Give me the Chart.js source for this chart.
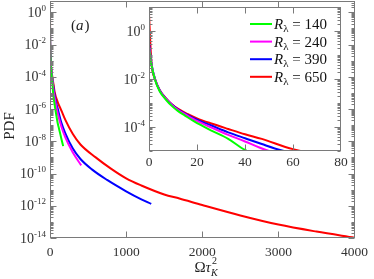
<!DOCTYPE html>
<html>
<head>
<meta charset="utf-8">
<script src="https://cdn.jsdelivr.net/npm/chart.js@4/dist/chart.umd.min.js"></script>
<style>
    html, body { margin: 0; padding: 0; background: #fff; }
    #wrap { position: relative; width: 374px; height: 279px; }
    #mainChart { position: absolute; left: 0; top: 0; }
    #insetChart { position: absolute; left: 100px; top: 0; }
</style>
</head>
<body>
<div id="wrap">
    <canvas id="mainChart" width="374" height="279"></canvas>
    <canvas id="insetChart" width="262" height="176"></canvas>
</div>
<script>
// R_lambda values and line colours
const seriesLabels = ['140', '240', '390', '650']
const seriesColors = ['#00ff00', '#ff00ff', '#0000ff', '#ff0000']

// PDF of Omega*tau_K^2
const omega140 = [0, 1, 2.5, 4.5, 7, 9.5, 12, 15, 19, 26, 33, 40, 60, 80, 100, 120, 150, 173]
const pdf140 = [0.18, 4.0e-2, 9.3e-3, 3.0e-3, 1.4e-3, 7.6e-4, 4.7e-4, 3.0e-4, 1.66e-4, 7.1e-5, 3.2e-5, 1.1e-5, 2.0e-6, 5.0e-7, 1.4e-7, 5.6e-8, 1.4e-8, 5.0e-9]

const omega240 = [0, 1, 2.5, 4.5, 7, 9.5, 12, 16, 20, 26, 33, 40, 46, 50, 80, 100, 150, 200, 300, 410]
const pdf240 = [0.25, 4.3e-2, 9.8e-3, 3.2e-3, 1.5e-3, 8.3e-4, 5.2e-4, 3.0e-4, 1.8e-4, 9.5e-5, 4.7e-5, 2.5e-5, 1.4e-5, 1.0e-5, 1.6e-6, 5.6e-7, 7.9e-8, 1.8e-8, 2.0e-9, 3.2e-10]

const omega390 = [0, 1, 2.5, 4.5, 7, 9.5, 12, 16, 20, 26, 33, 40, 47, 55, 80, 100, 150, 200, 300, 400, 550, 750, 1000, 1200, 1330]
const pdf390 = [0.34, 4.5e-2, 1.0e-2, 3.3e-3, 1.55e-3, 8.7e-4, 5.5e-4, 3.2e-4, 2.0e-4, 1.15e-4, 6.0e-5, 3.4e-5, 1.95e-5, 1.07e-5, 2.5e-6, 1.1e-6, 1.4e-7, 3.2e-8, 3.5e-9, 7.9e-10, 1.8e-10, 4.0e-11, 7.9e-12, 2.5e-12, 1.3e-12]

const omega650 = [0, 1, 2.5, 4.5, 7, 9.5, 12, 16, 20, 26, 33, 40, 47, 60, 100, 150, 200, 300, 400, 600, 800, 1000, 1200, 1500, 1700, 2000, 2500, 3000, 3500, 4000]
const pdf650 = [5.0, 5.0e-2, 1.0e-2, 3.4e-3, 1.6e-3, 8.9e-4, 5.8e-4, 3.5e-4, 2.3e-4, 1.4e-4, 8.3e-5, 5.0e-5, 3.2e-5, 1.2e-5, 2.8e-6, 7.9e-7, 2.2e-7, 2.8e-8, 6.3e-9, 1.0e-9, 2.0e-10, 5.0e-11, 1.8e-11, 5.0e-12, 2.8e-12, 1.1e-12, 2.5e-13, 6.8e-14, 2.5e-14, 1.05e-14]

// ticks
const mainXTicks = [0, 1000, 2000, 3000, 4000]
const mainYExps = [0, -2, -4, -6, -8, -10, -12, -14]
const insetXTicks = [0, 20, 40, 60, 80]
const insetYExps = [0, -2, -4]

const omegas = [omega140, omega240, omega390, omega650]
const pdfs = [pdf140, pdf240, pdf390, pdf650]

const SERIF = '"Liberation Serif", "Times New Roman", serif'

function makeDatasets() {
    return seriesLabels.map((lab, i) => ({
        label: lab,
        data: omegas[i].map((x, j) => ({x: x, y: pdfs[i][j]})),
        borderColor: seriesColors[i],
        borderWidth: 2,
        pointRadius: 0,
        cubicInterpolationMode: 'monotone',
        fill: false
    }))
}

function drawPow(ctx, d, xr, ym, size) {
    const sup = String(d)
    const ss = Math.round(size * 0.66)
    ctx.font = size + 'px ' + SERIF
    const wb = ctx.measureText('10').width
    ctx.font = ss + 'px ' + SERIF
    const ws = ctx.measureText(sup).width
    const x0 = xr - ws - wb
    const base = ym + size * 0.33
    ctx.textAlign = 'left'
    ctx.textBaseline = 'alphabetic'
    ctx.font = size + 'px ' + SERIF
    ctx.fillText('10', x0, base)
    ctx.font = ss + 'px ' + SERIF
    ctx.fillText(sup, x0 + wb, base - size * 0.42)
}

const framePlugin = {
    id: 'frame',
    beforeDraw(chart, args, o) {
        if (!o.fill) return
        const a = chart.chartArea
        const ctx = chart.ctx
        ctx.save()
        ctx.fillStyle = o.fill
        ctx.fillRect(a.left, a.top, a.right - a.left, a.bottom - a.top)
        ctx.restore()
    },
    afterDraw(chart, args, o) {
        const {ctx, chartArea: a, scales: {x, y}} = chart
        ctx.save()
        ctx.strokeStyle = '#7a7a7a'
        ctx.lineWidth = 1
        const L = Math.round(a.left) + 0.5, R = Math.round(a.right) - 0.5
        const T = Math.round(a.top) + 0.5, B = Math.round(a.bottom) - 0.5
        ctx.beginPath()
        for (const v of o.xTicks) {
            if (v <= x.min || v >= x.max) continue
            const px = Math.round(x.getPixelForValue(v)) + 0.5
            ctx.moveTo(px, B); ctx.lineTo(px, B - o.major)
            ctx.moveTo(px, T); ctx.lineTo(px, T + o.major)
        }
        const d0 = Math.floor(Math.log10(y.min)), d1 = Math.ceil(Math.log10(y.max))
        for (let d = d0; d <= d1; d++) {
            for (let k = 1; k < 10; k++) {
                const v = k * Math.pow(10, d)
                if (v < y.min * 0.999 || v > y.max) continue
                const len = (k === 1 && o.yExps.includes(d)) ? o.major : o.minor
                const py = Math.round(y.getPixelForValue(v)) + 0.5
                ctx.moveTo(L, py); ctx.lineTo(L + len, py)
                ctx.moveTo(R, py); ctx.lineTo(R - len, py)
            }
        }
        ctx.stroke()
        ctx.strokeRect(L, T, R - L, B - T)
        ctx.fillStyle = '#333'
        for (const d of o.yExps) {
            drawPow(ctx, d, a.left - 4, y.getPixelForValue(Math.pow(10, d)), o.labelSize)
        }
        if (o.extra) o.extra(chart)
        ctx.restore()
    }
}

function drawMainText(chart) {
    const ctx = chart.ctx
    ctx.fillStyle = '#222'
    ctx.textBaseline = 'alphabetic'
    ctx.textAlign = 'left'

    // (a)
    let x = 71
    ctx.font = '15px ' + SERIF
    ctx.fillText('(', x, 30); x += ctx.measureText('(').width
    ctx.font = 'italic 15px ' + SERIF
    ctx.fillText('a', x, 30); x += ctx.measureText('a').width + 1
    ctx.font = '15px ' + SERIF
    ctx.fillText(')', x, 30)

    // x title: Omega tau_K^2
    ctx.font = '15px ' + SERIF
    const wO = ctx.measureText('Ω').width
    ctx.font = 'italic 15px ' + SERIF
    const wT = ctx.measureText('τ').width
    ctx.font = 'italic 10px ' + SERIF
    const wK = ctx.measureText('K').width
    let tx = 206 - (wO + wT + wK) / 2
    const by = 272
    ctx.font = '15px ' + SERIF
    ctx.fillText('Ω', tx, by); tx += wO
    ctx.font = 'italic 15px ' + SERIF
    ctx.fillText('τ', tx, by); tx += wT
    ctx.font = 'italic 10px ' + SERIF
    ctx.fillText('K', tx, by + 4)
    ctx.font = '10px ' + SERIF
    ctx.fillText('2', tx + 1, by - 8)

    // y title
    ctx.save()
    ctx.translate(10, 126)
    ctx.rotate(-Math.PI / 2)
    ctx.textAlign = 'center'
    ctx.textBaseline = 'middle'
    ctx.font = '15px ' + SERIF
    ctx.fillText('PDF', 0, 0)
    ctx.restore()
}

function drawLegend(chart) {
    const {ctx, chartArea: a} = chart
    chart.data.datasets.forEach((ds, i) => {
        const yy = a.top + 17 + i * 17.6
        const x1 = a.right - 91
        ctx.strokeStyle = ds.borderColor
        ctx.lineWidth = 2
        ctx.beginPath()
        ctx.moveTo(x1, yy)
        ctx.lineTo(x1 + 22, yy)
        ctx.stroke()
        let tx = x1 + 24
        const by = yy + 5
        ctx.fillStyle = '#111'
        ctx.textAlign = 'left'
        ctx.textBaseline = 'alphabetic'
        ctx.font = 'italic 15px ' + SERIF
        ctx.fillText('R', tx, by); tx += ctx.measureText('R').width
        ctx.font = '11px ' + SERIF
        ctx.fillText('λ', tx, by + 3); tx += ctx.measureText('λ').width
        ctx.font = '15px ' + SERIF
        ctx.fillText(' = ' + ds.label, tx, by)
    })
}

const tickFont = {family: SERIF, size: 13.5}

function build() {
    new Chart(document.getElementById('mainChart'), {
        type: 'line',
        data: {datasets: makeDatasets()},
        options: {
            responsive: false,
            animation: false,
            layout: {padding: {left: 0, right: 16, top: 1, bottom: 0}},
            plugins: {
                legend: {display: false},
                tooltip: {enabled: false},
                frame: {xTicks: mainXTicks, yExps: mainYExps, major: 6, minor: 3, labelSize: 14, extra: drawMainText}
            },
            scales: {
                x: {
                    type: 'linear', min: 0, max: 4000,
                    afterBuildTicks: s => { s.ticks = mainXTicks.map(v => ({value: v})) },
                    afterFit: s => { s.height = 41 },
                    grid: {display: false, drawTicks: false},
                    border: {display: false},
                    ticks: {font: tickFont, color: '#333', padding: 6, maxRotation: 0, callback: v => String(v)}
                },
                y: {
                    type: 'logarithmic', min: 1e-14, max: 5,
                    afterFit: s => { s.width = 50 },
                    grid: {display: false, drawTicks: false},
                    border: {display: false},
                    ticks: {display: false}
                }
            }
        },
        plugins: [framePlugin]
    })

    new Chart(document.getElementById('insetChart'), {
        type: 'line',
        data: {datasets: makeDatasets()},
        options: {
            responsive: false,
            animation: false,
            layout: {padding: {left: 0, right: 21, top: 7, bottom: 0}},
            plugins: {
                legend: {display: false},
                tooltip: {enabled: false},
                frame: {fill: '#fff', xTicks: insetXTicks, yExps: insetYExps, major: 6, minor: 3, labelSize: 14, extra: drawLegend}
            },
            scales: {
                x: {
                    type: 'linear', min: 0, max: 80,
                    afterBuildTicks: s => { s.ticks = insetXTicks.map(v => ({value: v})) },
                    afterFit: s => { s.height = 25 },
                    grid: {display: false, drawTicks: false},
                    border: {display: false},
                    ticks: {font: tickFont, color: '#333', padding: 3, maxRotation: 0, callback: v => String(v)}
                },
                y: {
                    type: 'logarithmic', min: 1e-5, max: 10,
                    afterFit: s => { s.width = 49 },
                    grid: {display: false, drawTicks: false},
                    border: {display: false},
                    ticks: {display: false}
                }
            }
        },
        plugins: [framePlugin]
    })
}

Promise.all([
    document.fonts.load('14px "Liberation Serif"'),
    document.fonts.load('italic 14px "Liberation Serif"')
]).then(build, build)
</script>
</body>
</html>
